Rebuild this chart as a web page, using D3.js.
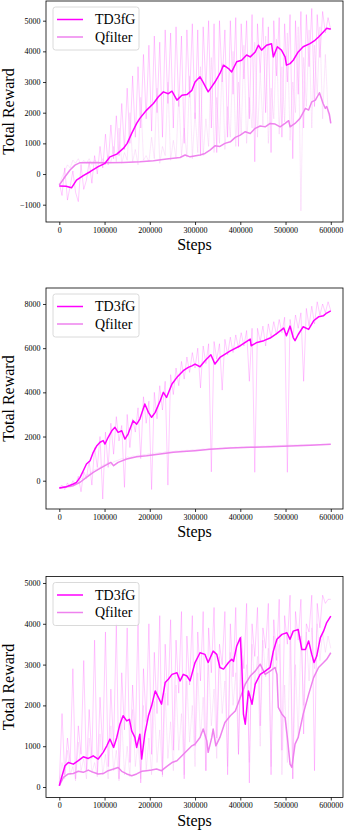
<!DOCTYPE html>
<html><head><meta charset="utf-8">
<script src="https://cdn.jsdelivr.net/npm/d3@7"></script>
<style>body{margin:0;background:#fff}svg{display:block}</style>
</head><body><svg id="c" width="346" height="830"></svg>
<script>
// ---------- DATA ----------
const seriesNames = ["TD3fG", "Qfilter"];
const xTicks = [0, 100000, 200000, 300000, 400000, 500000, 600000];
const yTicks1 = [-1000, 0, 1000, 2000, 3000, 4000, 5000];
const yTicks2 = [0, 2000, 4000, 6000, 8000];
const yTicks3 = [0, 1000, 2000, 3000, 4000, 5000];
const rawInterval = 6000; // raw samples every 6000 steps

// Panel 1 smoothed
const p1TdSteps = [0,15000,27000,38000,53000,68000,86000,101000,112000,127000,141500,150000,160000,171000,178000,193000,208000,219000,230000,241000,249000,260000,271000,282000,293000,300000,311000,318000,329000,337000,344000,355000,363000,374000,381000,392000,403000,414000,422000,433000,440000,447000,458000,469000,473000,482000,491000,499000,502000,510000,517000,528000,539000,554000,565000,573000,584000,591000,598000,600000];
const p1Td = [-390,-400,-450,-200,-55,75,240,350,560,650,835,1000,1325,1650,1815,2085,2300,2520,2680,2620,2700,2410,2570,2590,2730,3000,3170,2990,2680,2850,3000,3280,3550,3440,3330,3660,3710,3880,3820,3980,4200,4040,4200,4250,3820,4150,4040,3820,3550,3600,3710,3980,4150,4250,4360,4470,4640,4750,4730,4740];
const p1QfSteps = [0,12600,23700,34700,46000,68000,105000,141000,178000,208000,237000,267000,278000,289000,311000,322000,333000,344000,355000,366000,378000,389000,400000,411000,422000,433000,444000,455000,466000,477000,488000,499000,507000,510000,521000,532000,544000,551000,558000,566000,575000,583000,588000,591000,597000,600000];
const p1Qf = [-360,-90,130,290,370,380,370,380,400,435,490,540,620,560,620,670,780,920,900,1000,1050,1195,1270,1380,1320,1490,1565,1540,1650,1630,1540,1650,1740,1540,1650,1815,2140,2085,2355,2410,2650,2300,2140,2200,1940,1650];
const p1TdRaw = [-300,-700,200,-850,-400,100,-600,-900,300,-500,-200,400,-300,600,0,900,200,
  1300,300,1600,500,1900,600,2300,800,2800,1000,3200,1200,3500,1500,3900,
  1800,4200,1400,4500,2000,4300,1200,4700,2300,4600,1500,4800,2200,4500,1000,4700,
  2500,4900,1800,4700,600,4800,2800,5000,1500,4900,700,5000,3000,4700,1200,5000,
  2600,5100,900,4900,3100,5000,1800,5200,400,4900,3300,5100,2000,4800,700,5000,
  3200,5100,1200,4900,3000,5200,500,5000,2600,5300,1500,5200,3500,5400,2200,5200,3800,5300,4600,5100,4700];
const p1QfRaw = [-350,-100,100,300,200,450,350,500,300,450,350,500,300,450,400,350,500,
  300,600,350,900,400,1500,350,700,450,2000,400,800,300,2500,450,600,
  400,1200,500,2800,350,900,600,3000,450,1100,500,2600,600,1500,550,3200,
  500,2000,700,3500,600,1800,900,3800,700,2500,1000,3600,800,2200,1200,4000,
  900,3000,1300,4200,1000,2500,1500,4300,1200,3300,1600,4500,1000,2800,1800,4400,
  1300,3500,1700,4600,1100,3000,2000,4800,-1200,3800,2200,4700,1500,4200,2600,4800,1800,3900,2000,1700];

// Panel 2 smoothed
const p2TdSteps = [0,16000,31000,38000,46000,53000,60000,68000,75000,83000,90000,97000,101000,108000,116000,123000,130000,138000,145000,152000,163000,171000,178000,189000,197000,204000,212000,223000,230000,237000,249000,260000,267000,274000,285000,293000,300000,311000,322000,335000,344000,355000,378000,400000,422000,424000,437000,452000,466000,481000,496000,502000,510000,517000,521000,528000,539000,551000,562000,573000,584000,591000,600000];
const p2Td = [-330,-270,-150,-75,150,450,755,905,1285,1585,1740,1815,1660,1965,2260,2415,2190,2260,1885,2110,2715,2560,2790,3470,3095,2870,3095,3620,4000,3770,4375,4680,4830,4980,5130,5200,5280,5160,5430,5700,5280,5580,5880,6110,6410,6110,6260,6340,6460,6670,6910,6560,7000,6480,6340,6620,6970,6850,7240,7420,7470,7590,7690];
const p2QfSteps = [0,31000,46000,60000,75000,90000,105000,114000,120000,130000,149000,171000,193000,223000,252000,282000,300000,333000,378000,422000,466000,510000,555000,600000];
const p2Qf = [-330,-225,-70,150,380,560,725,830,680,830,980,1085,1130,1210,1285,1330,1360,1420,1480,1510,1540,1570,1600,1645];
const p2TdRaw = [-300,-200,-400,-100,-300,0,-200,200,-500,400,100,900,-200,1500,600,2000,-830,
  2200,600,2600,1200,2900,1800,2500,-300,3000,1500,2800,2200,3300,1000,3800,2600,
  3600,-400,4000,2800,4300,3200,4500,-200,4800,3900,5100,4300,5400,4600,5600,4900,
  5800,5100,6000,4200,6100,5300,6200,400,6300,5500,6200,4100,6400,5700,6500,5800,
  6600,6000,6700,6100,6800,4500,6900,380,6900,6300,7000,6100,7100,6500,7200,6600,
  7300,6700,7400,380,7300,6500,7500,6900,7600,4500,7800,7000,7900,7100,8100,7500,8000,7600,8100,7700];
const p2QfRaw = [-330,-290,-300,-240,-260,-170,-120,-40,80,120,260,300,420,500,540,620,700,
  740,820,700,860,900,950,1000,980,1080,1050,1120,1100,1160,1130,1190,1180,
  1220,1200,1250,1240,1280,1260,1310,1290,1330,1320,1350,1340,1370,1350,1380,1370,
  1400,1390,1420,1410,1440,1420,1450,1440,1470,1460,1480,1470,1500,1490,1510,1500,
  1520,1510,1530,1520,1540,1530,1550,1540,1560,1550,1570,1560,1580,1570,1590,1580,
  1600,1590,1610,1600,1620,1610,1620,1615,1630,1620,1635,1625,1640,1630,1645,1635,1650,1640,1650,1645];

// Panel 3 smoothed
const p3TdSteps = [0,5000,12600,20000,31000,42000,53000,64000,75000,86000,97000,105000,112000,120000,127000,134000,141000,149000,155000,160000,167000,171000,178000,182000,189000,197000,204000,212000,219000,226000,234000,241000,249000,260000,267000,274000,282000,289000,300000,311000,322000,329000,340000,348000,355000,363000,374000,381000,385000,392000,400000,403000,407000,411000,418000,426000,433000,444000,455000,466000,473000,481000,492000,503000,510000,517000,528000,536000,544000,551000,558000,563000,569000,577000,584000,591000,600000];
const p3Td = [30,235,520,600,560,645,740,700,765,685,850,1010,1175,970,1215,1540,1745,1620,1660,1375,1215,970,1295,685,1295,1745,1990,2355,2195,2030,2560,2640,2760,2800,2600,2760,2720,2600,3050,3290,3250,3050,3330,3250,2930,2890,3050,3130,3080,3450,3660,3090,1785,1540,2355,2030,2520,2760,2840,2930,3330,3620,3740,3780,3620,3820,3860,3370,3370,3580,3250,3050,3210,3660,3820,4030,4190];
const p3QfSteps = [0,9000,20000,31000,42000,53000,64000,75000,86000,97000,108000,120000,130000,138000,149000,160000,171000,182000,193000,204000,215000,226000,237000,249000,260000,271000,282000,293000,300000,311000,318000,326000,329000,337000,340000,346000,355000,366000,378000,389000,400000,411000,422000,433000,444000,455000,466000,477000,481000,484000,492000,499000,504000,510000,514000,521000,528000,539000,551000,562000,573000,584000,591000,600000];
const p3Qf = [30,235,320,330,385,360,415,360,320,330,400,440,480,385,320,275,320,385,400,415,440,400,500,600,645,765,890,1010,1050,1215,1420,1130,850,1215,1420,1010,1215,1580,1745,1865,2195,2520,2720,2840,3010,2760,2840,2930,2760,1950,1785,1700,1215,560,480,1050,1215,1785,2270,2680,2930,3050,3130,3290];
const p3TdRaw = [100,1800,300,1200,600,2900,200,1500,800,3100,400,1900,700,3600,300,2200,900,
  3800,500,2400,1000,4000,200,2800,1400,3900,600,2500,1100,4100,100,2900,
  1600,4000,800,3300,1800,4200,300,3500,2000,4100,900,3600,2300,4300,200,3700,
  2500,4200,1000,3800,2600,4300,400,3900,2800,4400,1200,3500,3000,4300,300,4000,
  2700,4400,800,3700,2900,4500,100,4000,3200,4400,1500,3900,3400,4500,300,4100,
  3100,4600,900,4200,3500,4700,200,4300,3600,4600,1300,4000,3800,4700,400,4500,3900,4700,4500,4600,4600];
const p3QfRaw = [50,600,200,900,300,500,150,1100,400,700,200,1200,350,600,250,1300,300,
  800,200,1500,400,900,150,1700,300,1000,250,1900,500,1100,200,2000,
  400,1200,300,2100,600,1400,250,2300,700,1600,400,2500,900,1800,300,2600,
  1100,2000,500,2800,1200,2200,400,3000,1500,2400,700,3200,1800,2600,500,3300,
  2000,2800,800,3400,2300,3000,600,3500,2500,3200,1000,3600,2700,3400,500,3700,
  2900,3500,300,2500,600,3600,200,3000,1200,3700,2000,3800,2600,3900,2900,4000,3100,3800,3300,3700,3400];

// ---------- LAYOUT / STYLE ----------
const colors = {TD3fG: "#ff00ff", Qfilter: "#ee82ee"};
const font = "'Liberation Serif','Times New Roman',serif";
const L = 46, R = 343, H = 221;
const panels = [
  {top: 1,     yDomain: [-1564, 5642], yTicks: yTicks1,
   lines: [[p1TdSteps, p1Td, "TD3fG"], [p1QfSteps, p1Qf, "Qfilter"]], raws: [[p1TdRaw, "TD3fG"], [p1QfRaw, "Qfilter"]]},
  {top: 288,   yDomain: [-1281, 8724], yTicks: yTicks2,
   lines: [[p2TdSteps, p2Td, "TD3fG"], [p2QfSteps, p2Qf, "Qfilter"]], raws: [[p2TdRaw, "TD3fG"], [p2QfRaw, "Qfilter"]]},
  {top: 576.5, yDomain: [-257, 5159], yTicks: yTicks3,
   lines: [[p3TdSteps, p3Td, "TD3fG"], [p3QfSteps, p3Qf, "Qfilter"]], raws: [[p3TdRaw, "TD3fG"], [p3QfRaw, "Qfilter"]]}
];

const svg = d3.select("#c");
const x = d3.scaleLinear().domain([-29400, 627000]).range([L, R]);

panels.forEach((p, pi) => {
  const y = d3.scaleLinear().domain(p.yDomain).range([p.top + H, p.top]);
  const clipId = "clip" + pi;
  svg.append("clipPath").attr("id", clipId).append("rect")
    .attr("x", L).attr("y", p.top).attr("width", R - L).attr("height", H);
  const g = svg.append("g").attr("clip-path", `url(#${clipId})`);

  // raw traces (faint)
  p.raws.forEach(([vals, name]) => {
    const line = d3.line().x((d, i) => x(i * rawInterval)).y(d => y(d));
    g.append("path").attr("d", line(vals)).attr("fill", "none")
      .attr("stroke", colors[name]).attr("stroke-opacity", 0.2).attr("stroke-width", 1);
  });
  // smoothed lines (Qfilter beneath TD3fG)
  [p.lines[1], p.lines[0]].forEach(([steps, vals, name]) => {
    const line = d3.line().x((d, i) => x(steps[i])).y(d => y(d));
    g.append("path").attr("d", line(vals)).attr("fill", "none")
      .attr("stroke", colors[name]).attr("stroke-width", 1.5).attr("stroke-linejoin", "round");
  });

  // axes
  const xa = svg.append("g").attr("transform", `translate(0,${p.top + H})`)
    .call(d3.axisBottom(x).tickValues(xTicks).tickFormat(d3.format("d")).tickSize(3).tickPadding(2));
  const ya = svg.append("g").attr("transform", `translate(${L},0)`)
    .call(d3.axisLeft(y).tickValues(p.yTicks).tickFormat(d => d < 0 ? "\u2212" + Math.abs(d) : String(d)).tickSize(3).tickPadding(2.5));
  [xa, ya].forEach(a => {
    a.select(".domain").remove();
    a.selectAll("text").attr("font-family", font).attr("font-size", 8).attr("fill", "#000");
    a.selectAll("line").attr("stroke", "#000").attr("stroke-width", 0.8);
  });
  // frame
  svg.append("rect").attr("x", L).attr("y", p.top).attr("width", R - L).attr("height", H)
    .attr("fill", "none").attr("stroke", "#000").attr("stroke-width", 0.8);

  // labels
  svg.append("text").attr("x", (L + R) / 2).attr("y", p.top + H + 28)
    .attr("text-anchor", "middle").attr("font-family", font).attr("font-size", 16).text("Steps");
  svg.append("text").attr("transform", `translate(13.5,${p.top + H / 2}) rotate(-90)`)
    .attr("text-anchor", "middle").attr("font-family", font).attr("font-size", 16).text("Total Reward");

  // legend
  const lg = svg.append("g").attr("transform", `translate(${L + 7},${p.top + 6})`);
  lg.append("rect").attr("width", 86).attr("height", 43).attr("rx", 2.5)
    .attr("fill", "#fff").attr("fill-opacity", 0.8).attr("stroke", "#d0d0d0").attr("stroke-width", 0.8);
  seriesNames.forEach((name, i) => {
    const cy = 12.5 + i * 17.5;
    lg.append("line").attr("x1", 4).attr("x2", 30).attr("y1", cy).attr("y2", cy)
      .attr("stroke", colors[name]).attr("stroke-width", 1.5);
    lg.append("text").attr("x", 42).attr("y", cy).attr("dy", "0.35em")
      .attr("font-family", font).attr("font-size", 14).text(name);
  });
});
</script></body></html>
